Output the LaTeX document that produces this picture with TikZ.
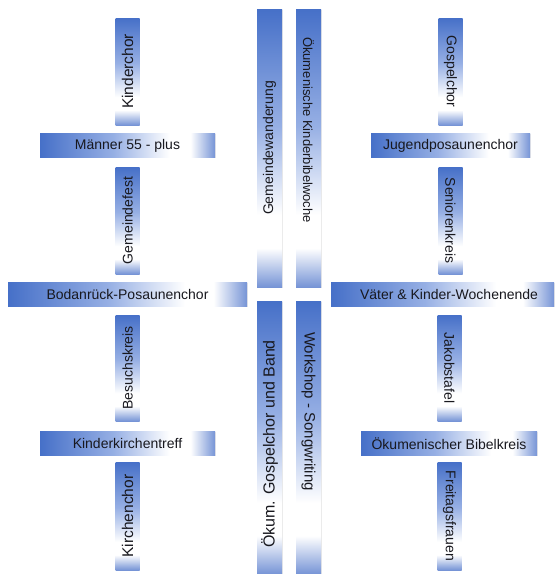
\documentclass[tikz,border=0pt]{standalone}
\usepackage{fontspec}
\setmainfont{Liberation Sans}
\usepackage{xcolor}
\usepackage{graphicx}
\usepackage{tikz}
\usetikzlibrary{shadows}
\definecolor{barBlue}{RGB}{70,112,200}
\definecolor{barMid}{RGB}{150,175,228}
\definecolor{barEdge}{RGB}{118,148,214}
\definecolor{barText}{RGB}{24,24,30}
\pgfdeclarehorizontalshading{barshade}{100bp}{color(0bp)=(barBlue); color(25bp)=(barBlue); color(46bp)=(barMid); color(62bp)=(white); color(68bp)=(white); color(75bp)=(barEdge); color(100bp)=(barEdge)}

\begin{document}
\begin{tikzpicture}[x=1pt,y=-1pt,
  bar/.style={shading=barshade, text=barText, inner sep=0pt, minimum height=24pt,
    font=\fontsize{14}{16}\selectfont,
    drop shadow={opacity=0.18, shadow xshift=0.8pt, shadow yshift=-0.8pt}},
  vbar/.style={bar, minimum width=24pt, shading angle=-90}]
\useasboundingbox (0,0) rectangle (558,574);

% left upper cross
\node[vbar, minimum height=107pt, font=\fontsize{15.5}{17}\selectfont] (kinderchor) at (127.5,71.5) {\rotatebox{90}{Kinderchor}};
\node[bar, minimum width=175pt] (maenner) at (127.5,145.5) {Männer 55 - plus};
\node[vbar, minimum height=107pt] (gemfest) at (127.5,220.5) {\rotatebox{90}{Gemeindefest}};

% right upper cross
\node[vbar, minimum height=107pt] (gospel) at (450.5,71.5) {\rotatebox{-90}{Gospelchor}};
\node[bar, minimum width=159pt] (jugend) at (450.5,145.5) {Jugendposaunenchor};
\node[vbar, minimum height=107pt] (senioren) at (450.5,220.5) {\rotatebox{-90}{Seniorenkreis}};

% middle row
\node[bar, minimum width=239pt] (bodan) at (127.5,294.5) {Bodanrück-Posaunenchor};
\node[bar, minimum width=223pt] (vaeter) at (442.5,294.5) {\hspace{13pt}Väter \& Kinder-Wochenende};

% left lower cross
\node[vbar, minimum height=106pt] (besuch) at (127.5,368) {\rotatebox{90}{Besuchskreis}};
\node[bar, minimum width=175pt] (kikitreff) at (127.5,443.5) {Kinderkirchentreff};
\node[vbar, minimum height=108pt, font=\fontsize{15.5}{17}\selectfont] (kirchenchor) at (127.5,516) {\rotatebox{90}{Kirchenchor}};

% right lower cross
\node[vbar, minimum height=106pt] (jakob) at (449.5,368) {\rotatebox{-90}{Jakobstafel}};
\node[bar, minimum width=176pt] (bibelkreis) at (449,443.5) {Ökumenischer Bibelkreis};
\node[vbar, minimum height=108pt] (freitag) at (449.5,516) {\rotatebox{-90}{Freitagsfrauen}};

% central columns
\node[vbar, minimum height=278pt, minimum width=25pt] (wanderung) at (269.5,148) {\rotatebox{90}{Gemeindewanderung}};
\node[vbar, minimum height=278pt, minimum width=25pt, font=\fontsize{13}{15}\selectfont] (kibiwo) at (308.5,148) {\rotatebox{-90}{Ökumenische Kinderbibelwoche\hspace{36pt}}};
\node[vbar, minimum height=273pt, minimum width=25pt, font=\fontsize{16}{18}\selectfont] (gospelband) at (269.5,437.5) {\rotatebox{90}{Ökum. Gospelchor und Band\hspace{13pt}}};
\node[vbar, minimum height=273pt, minimum width=25pt, font=\fontsize{15}{17}\selectfont] (workshop) at (308.5,437.5) {\rotatebox{-90}{Workshop - Songwriting\hspace{52pt}}};
\end{tikzpicture}
\end{document}
